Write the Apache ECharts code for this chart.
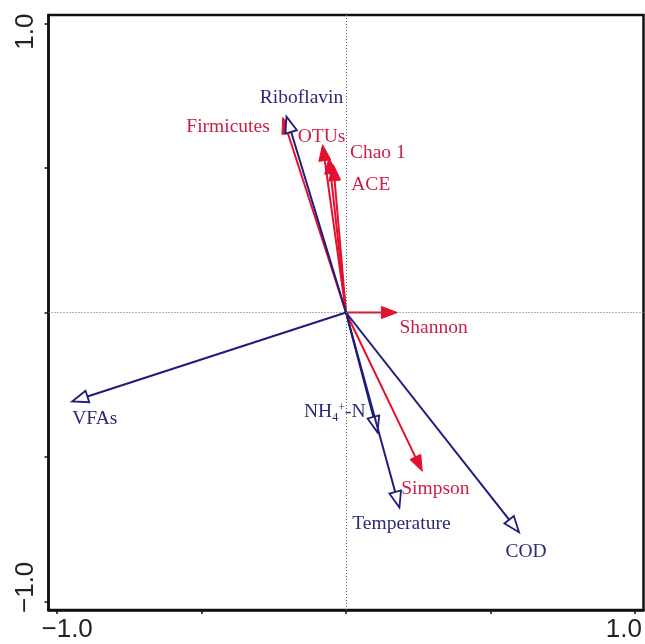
<!DOCTYPE html>
<html>
<head>
<meta charset="utf-8">
<script src="https://cdn.jsdelivr.net/npm/echarts@6/dist/echarts.min.js"></script>
<style>
  html, body { margin: 0; padding: 0; background: #fff; }
  #chart { width: 645px; height: 644px; }
</style>
</head>
<body>
<div id="chart"></div>
<script>
// ---- data ----
const speciesNames = ['Firmicutes', 'OTUs', 'Chao 1', 'ACE', 'Shannon', 'Simpson'];
const speciesX = [-0.219, -0.081, -0.059, -0.044, 0.178, 0.264];
const speciesY = [0.675, 0.581, 0.536, 0.512, 0.0, -0.550];

const envNames = ['Riboflavin', 'VFAs', 'NH4+-N', 'Temperature', 'COD'];
const envX = [-0.206, -0.948, 0.109, 0.185, 0.599];
const envY = [0.678, -0.308, -0.415, -0.675, -0.761];

const tickValues = [-1, -0.5, 0, 0.5, 1];
const tickLabelValues = [-1, 1];
const tickLabelText = ['\u22121.0', '1.0'];

// ---- styling ----
const RED = '#e3102f', RED_TXT = '#cc1f45';
const BLUE = '#1e1e7a', BLUE_TXT = '#2a2a78';
const labelStyle = {
  'Firmicutes': { dx: -13, dy: 9, align: 'right' },
  'OTUs': { dx: -1, dy: -8, align: 'center' },
  'Chao 1': { dx: 21, dy: -5, align: 'left' },
  'ACE': { dx: 18, dy: 20, align: 'left' },
  'Shannon': { dx: 2, dy: 15, align: 'left' },
  'Simpson': { dx: -21, dy: 18, align: 'left' },
  'Riboflavin': { dx: 15, dy: -19, align: 'center' },
  'VFAs': { dx: 0, dy: 17, align: 'left' },
  'NH4+-N': { dx: -12, dy: -20, align: 'right' },
  'Temperature': { dx: 2, dy: 16, align: 'center' },
  'COD': { dx: 7, dy: 20, align: 'center' }
};
const LABEL_FONT = '19.5px "Liberation Serif", "Times New Roman", serif';
// per-end tick label nudges (rich padding) to match reference placement
const xLabelRich = { lo: { padding: [0, 0, 0, 20] }, hi: { padding: [0, 22, 0, 0] } };
const yLabelRich = { lo: { padding: [0, 0, 0, 28] }, hi: { padding: [0, 16, 0, 0] } };

function makeRender(names, color, txtColor, hollow) {
  return function (params, api) {
    const o = api.coord([0, 0]);
    const t = api.coord([api.value(0), api.value(1)]);
    const name = names[params.dataIndex];
    const dx = t[0] - o[0], dy = t[1] - o[1];
    const L = Math.hypot(dx, dy);
    const ux = dx / L, uy = dy / L, px = -uy, py = ux;
    const HL = 16, HW = 6;
    const b = [t[0] - ux * HL, t[1] - uy * HL];
    const p1 = [b[0] + px * HW, b[1] + py * HW];
    const p2 = [b[0] - px * HW, b[1] - py * HW];
    const ls = labelStyle[name] || { dx: 0, dy: 0, align: 'center' };
    let textStyle;
    if (name === 'NH4+-N') {
      textStyle = {
        x: t[0] + ls.dx, y: t[1] + ls.dy,
        text: 'NH{sub|4}{sup|+}-N',
        fill: txtColor, font: LABEL_FONT,
        align: ls.align, verticalAlign: 'middle',
        rich: {
          sub: { fontSize: 12, fontFamily: 'Liberation Serif', padding: [10, 0, 0, 0], fill: txtColor },
          sup: { fontSize: 12, fontFamily: 'Liberation Serif', padding: [0, 0, 10, 0], fill: txtColor }
        }
      };
    } else {
      textStyle = {
        x: t[0] + ls.dx, y: t[1] + ls.dy, text: name,
        fill: txtColor, font: LABEL_FONT,
        align: ls.align, verticalAlign: 'middle'
      };
    }
    return {
      type: 'group',
      children: [
        { type: 'line', shape: { x1: o[0], y1: o[1], x2: b[0], y2: b[1] },
          style: { stroke: color, lineWidth: 2 } },
        { type: 'polygon', shape: { points: [t, p1, p2] },
          style: hollow ? { fill: '#fff', stroke: color, lineWidth: 1.8 } : { fill: color, stroke: color, lineWidth: 1 } },
        { type: 'text', style: textStyle }
      ]
    };
  };
}

const chart = echarts.init(document.getElementById('chart'), null, { renderer: 'canvas' });

function tickFormatter(v) {
  const i = tickLabelValues.indexOf(Math.round(v));
  if (i < 0) return '';
  return '{' + (i === 0 ? 'lo' : 'hi') + '|' + tickLabelText[i] + '}';
}

const labelBase = {
  customValues: tickLabelValues,
  formatter: tickFormatter,
  fontFamily: 'Liberation Sans, Arial, sans-serif', fontSize: 26, color: '#222',
  hideOverlap: false
};

function richWithFont(r) {
  const out = {};
  Object.keys(r).forEach(k => {
    out[k] = Object.assign({ fontFamily: 'Liberation Sans, Arial, sans-serif', fontSize: 26, color: '#222' }, r[k]);
  });
  return out;
}

const axisCommon = {
  type: 'value', min: -1.03, max: 1.03,
  axisLine: { show: true, onZero: false, lineStyle: { color: '#111', width: 2.5 } },
  axisTick: { show: true, customValues: tickValues, length: 4, lineStyle: { color: '#111', width: 1.5 } },
  splitLine: { show: false }
};

chart.setOption({
  animation: false,
  backgroundColor: '#fff',
  grid: { left: 48.5, right: 1.5, top: 15, bottom: 34, outerBoundsMode: 'none', containLabel: false,
          show: true, borderColor: '#111', borderWidth: 2.5, backgroundColor: '#fff' },
  xAxis: Object.assign({}, axisCommon, {
    axisLabel: Object.assign({}, labelBase, { margin: 7, rich: richWithFont(xLabelRich) })
  }),
  yAxis: Object.assign({}, axisCommon, {
    axisLabel: Object.assign({}, labelBase, { rotate: 90, margin: 10, rich: richWithFont(yLabelRich) })
  }),
  series: [
    {
      type: 'custom', name: 'species',
      renderItem: makeRender(speciesNames, RED, RED_TXT, false),
      data: speciesX.map((x, i) => [x, speciesY[i]]),
      clip: false, z: 3,
      markLine: {
        silent: true, symbol: 'none', label: { show: false },
        lineStyle: { color: '#666', type: [1, 2], width: 1 },
        data: [{ xAxis: 0 }, { yAxis: 0 }]
      }
    },
    {
      type: 'custom', name: 'environment',
      renderItem: makeRender(envNames, BLUE, BLUE_TXT, true),
      data: envX.map((x, i) => [x, envY[i]]),
      clip: false, z: 4
    }
  ]
});
</script>
</body>
</html>
